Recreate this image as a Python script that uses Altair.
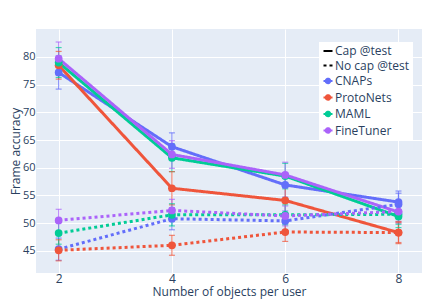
import altair as alt
import pandas as pd

x_vals = [2, 4, 6, 8]
models = ["CNAPs", "ProtoNets", "MAML", "FineTuner"]
colors = ["#636EFA", "#EF553B", "#00CC96", "#AB63FA"]
settings = ["Cap @test", "No cap @test"]

cap_mean = {
    "CNAPs": [77.2, 63.8, 56.9, 53.8],
    "ProtoNets": [78.5, 56.3, 54.1, 48.3],
    "MAML": [79.0, 61.8, 58.5, 51.2],
    "FineTuner": [79.7, 62.4, 58.7, 52.0],
}
cap_err = {
    "CNAPs": [3.0, 2.5, 2.2, 2.0],
    "ProtoNets": [2.5, 3.0, 2.5, 2.0],
    "MAML": [2.7, 2.5, 2.3, 2.0],
    "FineTuner": [3.0, 2.5, 2.3, 2.0],
}
nocap_mean = {
    "CNAPs": [45.3, 50.8, 50.4, 53.4],
    "ProtoNets": [45.1, 46.0, 48.4, 48.3],
    "MAML": [48.2, 51.5, 51.5, 51.6],
    "FineTuner": [50.5, 52.3, 51.3, 52.1],
}
nocap_err = {
    "CNAPs": [2.0, 2.0, 1.8, 2.0],
    "ProtoNets": [1.9, 1.8, 1.7, 1.8],
    "MAML": [2.0, 2.0, 1.8, 1.8],
    "FineTuner": [2.0, 2.0, 1.8, 1.8],
}

y_ticks = [45, 50, 55, 60, 65, 70, 75, 80]

rows = []
for setting, means, errs in [("Cap @test", cap_mean, cap_err), ("No cap @test", nocap_mean, nocap_err)]:
    for m in models:
        for xv, yv, ev in zip(x_vals, means[m], errs[m]):
            rows.append({"model": m, "setting": setting, "x": xv, "y": yv,
                         "lo": yv - ev, "hi": yv + ev, "key": m + setting})
df = pd.DataFrame(rows)

font = "Open Sans"
txt = "#2a3f5f"

color_scale = alt.Scale(domain=settings + models, range=["#000000", "#000000"] + colors)
legend = alt.Legend(
    title=None, orient="none", legendX=283, legendY=13, fillColor="white",
    padding=3, symbolSize=81, symbolStrokeWidth=2, labelFontSize=12,
    labelFont=font, labelColor=txt, labelOffset=1, rowPadding=2.5,
    symbolType={"expr": "indexof(['Cap @test','No cap @test'], datum.value) >= 0 ? 'stroke' : 'M-1,0L1,0M-0.5,0A0.5,0.5,0,1,1,0.5,0A0.5,0.5,0,1,1,-0.5,0Z'"},
    symbolDash={"expr": "datum.value == 'No cap @test' ? [3,3] : [1,0]"},
    symbolFillColor={"expr": "scale('color', datum.value)"},
    symbolStrokeColor={"expr": "scale('color', datum.value)"},
    symbolOpacity=1,
)

xs = alt.Scale(domain=[1.6, 8.415], nice=False, zero=False)
ys = alt.Scale(domain=[41.0, 85.05], nice=False, zero=False)

x_axis = alt.Axis(values=x_vals, title="Number of objects per user",
                  grid=True, gridColor="white", gridWidth=1, domain=False, ticks=False,
                  labelPadding=0, titlePadding=2, labelFont=font, labelFontSize=12, labelColor=txt,
                  labelOverlap=False, titleFont=font, titleFontSize=12, titleColor=txt,
                  titleFontWeight="normal")
y_axis = alt.Axis(values=y_ticks, title="Frame accuracy",
                  grid=True, gridColor="white", gridWidth=1, domain=False, ticks=False,
                  labelPadding=1, titlePadding=0, labelFont=font, labelFontSize=11, labelColor=txt,
                  labelOverlap=False, titleFont=font, titleFontSize=12, titleColor=txt,
                  titleFontWeight="normal")

X = alt.X("x:Q", scale=xs, axis=x_axis)
Y = alt.Y("y:Q", scale=ys, axis=y_axis)
YLO = alt.Y("lo:Q", scale=ys, axis=y_axis)
YHI = alt.Y("hi:Q", scale=ys, axis=y_axis)

C = alt.Color("model:N", scale=color_scale, legend=legend)
D = alt.StrokeDash("setting:N", scale=alt.Scale(domain=settings, range=[[1, 0], [3, 3]]), legend=None)

base = alt.Chart(df)

bars = base.mark_rule(strokeWidth=1.2, opacity=0.7).encode(
    x=X, y=YLO, y2="hi:Q", color=C, detail="key:N")
cap_lo = base.mark_tick(orient="horizontal", size=6, thickness=1.2, opacity=0.7).encode(
    x=X, y=YLO, color=C, detail="key:N")
cap_hi = base.mark_tick(orient="horizontal", size=6, thickness=1.2, opacity=0.7).encode(
    x=X, y=YHI, color=C, detail="key:N")
lines = base.mark_line(strokeWidth=3).encode(
    x=X, y=Y, color=C, strokeDash=D, detail="key:N")
points = base.mark_circle(size=60, opacity=1).encode(
    x=X, y=Y, color=C, detail="key:N")

chart = alt.layer(bars, cap_lo, cap_hi, lines, points).properties(
    width=386, height=244,
    autosize=alt.AutoSizeParams(type="none"),
    padding={"left": 28, "top": 21, "right": 17, "bottom": 26},
    background="white",
).configure_view(fill="#E5ECF6", stroke=None)

chart.save("out.html", embed_options={"renderer": "svg", "actions": False})
